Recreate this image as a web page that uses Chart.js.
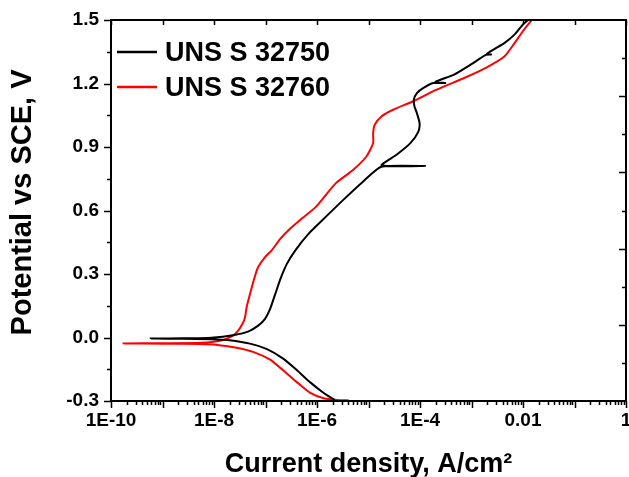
<!DOCTYPE html>
<html>
<head>
<meta charset="utf-8">
<script src="https://cdn.jsdelivr.net/npm/chart.js@4.4.1/dist/chart.umd.min.js"></script>
<style>
    body { margin: 0; background: #ffffff; }
    #wrap { width: 629px; height: 477px; }
</style>
</head>
<body>
<div id="wrap"><canvas id="polar"></canvas></div>
<script>
// series names
var seriesNames = ['UNS S 32750', 'UNS S 32760'];

// UNS S 32750 (current density A/cm2, potential V)
var blackCurrent = [2.2e-6, 1.35e-6, 7.4e-7, 4.1e-7, 2.2e-7, 1.07e-7, 5.0e-8, 1.8e-8, 8.9e-9, 2.5e-9, 5.9e-10,
    2.5e-9, 8.9e-9, 2.5e-8, 4.7e-8, 7.2e-8, 9.8e-8, 1.23e-7, 1.55e-7, 1.95e-7, 2.6e-7, 3.8e-7, 6.9e-7,
    1.48e-6, 3.2e-6, 7.8e-6, 1.78e-5, 1.26e-4, 1.8e-5, 3.5e-5, 6.5e-5, 9.3e-5, 9.8e-5, 8.7e-5, 7.8e-5,
    7.6e-5, 8.7e-5, 1.17e-4, 1.8e-4, 3.1e-4, 2.0e-4, 4.6e-4, 9.8e-4, 1.9e-3, 2.4e-3, 2.0e-3, 4.4e-3,
    6.9e-3, 1.0e-2, 1.26e-2];
var blackPotential = [-0.295, -0.262, -0.212, -0.155, -0.100, -0.055, -0.029, -0.012, -0.008, -0.006, -0.005,
    -0.004, -0.001, 0.012, 0.029, 0.056, 0.088, 0.135, 0.206, 0.277, 0.348, 0.412, 0.491,
    0.570, 0.649, 0.736, 0.807, 0.810, 0.813, 0.863, 0.918, 0.973, 1.013, 1.060, 1.092,
    1.124, 1.155, 1.179, 1.202, 1.202, 1.208, 1.242, 1.290, 1.335, 1.337, 1.340, 1.392,
    1.432, 1.479, 1.5];

// UNS S 32760
var redCurrent = [4.1e-6, 2.45e-6, 1.35e-6, 7.4e-7, 4.1e-7, 2.2e-7, 1.23e-7, 5.9e-8, 2.75e-8, 1.15e-8, 5.4e-9, 1.0e-9, 1.74e-10,
    1.0e-9, 5.6e-9, 1.38e-8, 2.3e-8, 2.95e-8, 3.7e-8, 4.0e-8, 4.3e-8, 5.0e-8, 6.3e-8, 7.2e-8, 9.8e-8,
    1.32e-7, 1.95e-7, 2.8e-7, 5.1e-7, 9.5e-7, 2.3e-6, 5.0e-6, 9.1e-6, 1.23e-5, 1.23e-5, 1.32e-5, 1.78e-5,
    3.0e-5, 7.4e-5, 2.1e-4, 7.2e-4, 1.9e-3, 4.4e-3, 6.9e-3, 1.0e-2, 1.48e-2];
var redPotential = [-0.297, -0.295, -0.287, -0.262, -0.212, -0.155, -0.105, -0.069, -0.048, -0.035, -0.031, -0.029, -0.028,
    -0.027, -0.025, -0.014, 0.008, 0.032, 0.072, 0.095, 0.143, 0.206, 0.293, 0.333, 0.380,
    0.412, 0.467, 0.507, 0.562, 0.617, 0.728, 0.791, 0.855, 0.918, 0.965, 1.005, 1.044,
    1.076, 1.116, 1.171, 1.226, 1.274, 1.329, 1.392, 1.448, 1.5];

// tick labels
var xTickValues = [1e-10, 1e-8, 1e-6, 1e-4, 0.01, 1];
var xTickText = ['1E-10', '1E-8', '1E-6', '1E-4', '0.01', '1'];
var yTickValues = [-0.3, 0.0, 0.3, 0.6, 0.9, 1.2, 1.5];
var yTickText = ['-0.3', '0.0', '0.3', '0.6', '0.9', '1.2', '1.5'];

var fontFamily = '"Liberation Sans", Arial, sans-serif';

function toPoints(xs, ys) {
    var pts = [];
    for (var i = 0; i < xs.length; i++) {
        pts.push({x: xs[i], y: ys[i]});
    }
    return pts;
}

// frame, inward/outward ticks and legend
var framePlugin = {
    id: 'frame',
    afterDraw: function (chart) {
        var ctx = chart.ctx;
        var a = chart.chartArea;
        var xs = chart.scales.x;
        var ys = chart.scales.y;
        ctx.save();
        ctx.strokeStyle = '#000';
        ctx.lineWidth = 2;
        ctx.strokeRect(a.left, a.top, a.right - a.left, a.bottom - a.top);

        ctx.lineWidth = 1.5;
        ctx.beginPath();
        // bottom (outward) + top (inward, decades only)
        xs.ticks.forEach(function (t) {
            var px = Math.round(xs.getPixelForValue(t.value)) + 0.5;
            var lg = Math.log10(t.value);
            var decade = Math.abs(lg - Math.round(lg)) < 1e-6;
            ctx.moveTo(px, a.bottom);
            ctx.lineTo(px, a.bottom + (decade ? 7 : 4));
            if (decade) {
                ctx.moveTo(px, a.top);
                ctx.lineTo(px, a.top + 5);
            }
        });
        // left (outward)
        ys.ticks.forEach(function (t) {
            var py = Math.round(ys.getPixelForValue(t.value)) + 0.5;
            var major = Math.abs(t.value / 0.3 - Math.round(t.value / 0.3)) < 1e-6;
            ctx.moveTo(a.left, py);
            ctx.lineTo(a.left - (major ? 7 : 4), py);
        });
        // right (inward), 10 divisions
        for (var k = 1; k < 10; k++) {
            var ry = Math.round(a.top + (a.bottom - a.top) * k / 10) + 0.5;
            ctx.moveTo(a.right, ry);
            ctx.lineTo(a.right - (k % 2 === 0 ? 7 : 4), ry);
        }
        ctx.stroke();

        // legend
        ctx.font = 'bold 27px ' + fontFamily;
        ctx.textBaseline = 'alphabetic';
        ctx.textAlign = 'left';
        chart.data.datasets.forEach(function (ds, i) {
            var ly = a.top + 32 + i * 35;
            ctx.strokeStyle = ds.borderColor;
            ctx.lineWidth = 2.5;
            ctx.beginPath();
            ctx.moveTo(a.left + 6, ly);
            ctx.lineTo(a.left + 46, ly);
            ctx.stroke();
            ctx.fillStyle = '#000';
            ctx.fillText(ds.label, a.left + 54, ly + 9);
        });
        ctx.restore();
    }
};

var ctx1 = document.getElementById('polar').getContext('2d');
var myChart1 = new Chart(ctx1, {
    type: 'scatter',
    data: {
        datasets: [{
            label: seriesNames[0],
            data: toPoints(blackCurrent, blackPotential),
            showLine: true,
            borderColor: '#000000',
            backgroundColor: '#000000',
            borderWidth: 2,
            pointRadius: 0,
            tension: 0.2
        }, {
            label: seriesNames[1],
            data: toPoints(redCurrent, redPotential),
            showLine: true,
            borderColor: '#ff0000',
            backgroundColor: '#ff0000',
            borderWidth: 2,
            pointRadius: 0,
            tension: 0.2
        }]
    },
    options: {
        responsive: true,
        maintainAspectRatio: false,
        animation: false,
        layout: {padding: {top: 20, right: 3, left: 0, bottom: 0}},
        plugins: {
            legend: {display: false},
            tooltip: {enabled: false}
        },
        scales: {
            x: {
                type: 'logarithmic',
                min: 1e-10,
                max: 1,
                grid: {display: false, drawTicks: false},
                border: {display: false},
                afterBuildTicks: function (scale) {
                    var t = [];
                    for (var e = -10; e <= 0; e++) {
                        for (var m = 1; m <= 9; m++) {
                            if (e === 0 && m > 1) break;
                            t.push({value: m * Math.pow(10, e)});
                        }
                    }
                    scale.ticks = t;
                },
                afterFit: function (scale) {
                    scale.height = 76;
                    scale.paddingLeft = 0;
                    scale.paddingRight = 0;
                },
                ticks: {
                    autoSkip: false,
                    maxRotation: 0,
                    padding: 8,
                    color: '#000',
                    font: {family: fontFamily, weight: 'bold', size: 19},
                    callback: function (value) {
                        for (var i = 0; i < xTickValues.length; i++) {
                            if (Math.abs(Math.log10(value) - Math.log10(xTickValues[i])) < 1e-6) return xTickText[i];
                        }
                        return '';
                    }
                },
                title: {
                    display: true,
                    text: 'Current density, A/cm\u00b2',
                    color: '#000',
                    font: {family: fontFamily, weight: 'bold', size: 27, lineHeight: 1},
                    padding: {top: 0, bottom: -1}
                }
            },
            y: {
                type: 'linear',
                min: -0.3,
                max: 1.5,
                grid: {display: false, drawTicks: false},
                border: {display: false},
                afterBuildTicks: function (scale) {
                    var t = [];
                    for (var k = 0; k <= 12; k++) {
                        t.push({value: Math.round((-0.3 + k * 0.15) * 100) / 100});
                    }
                    scale.ticks = t;
                },
                afterFit: function (scale) {
                    scale.width = 111;
                    scale.paddingTop = 0;
                    scale.paddingBottom = 0;
                },
                ticks: {
                    autoSkip: false,
                    padding: 12,
                    color: '#000',
                    font: {family: fontFamily, weight: 'bold', size: 19},
                    callback: function (value) {
                        for (var i = 0; i < yTickValues.length; i++) {
                            if (Math.abs(value - yTickValues[i]) < 1e-6) return yTickText[i];
                        }
                        return '';
                    }
                },
                title: {
                    display: true,
                    text: '  Potential vs SCE, V',
                    color: '#000',
                    font: {family: fontFamily, weight: 'bold', size: 29, lineHeight: 1},
                    padding: {top: 8.5, bottom: 0}
                }
            }
        }
    },
    plugins: [framePlugin]
});
</script>
</body>
</html>
